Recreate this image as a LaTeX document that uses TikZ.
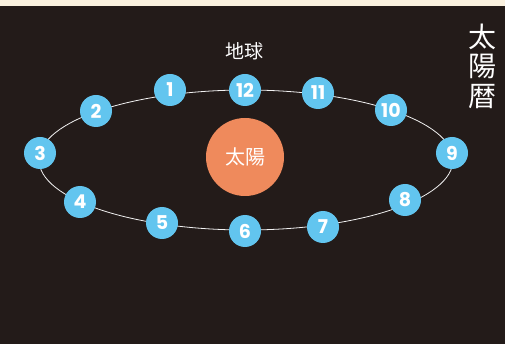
\documentclass[tikz,border=0pt]{standalone}
\usepackage{fontspec}
\newfontfamily\cjk{Noto Sans CJK JP}
\newfontfamily\numfont{Poppins}[UprightFont=* Bold]
\definecolor{bgdark}{HTML}{231B19}
\definecolor{cream}{HTML}{FAF1DF}
\definecolor{earthblue}{HTML}{62C5EF}
\definecolor{sunorange}{HTML}{EF8A5C}
\tikzset{
  month/.style={circle,fill=earthblue,minimum size=32pt,inner sep=0pt,text=white,font=\numfont\fontsize{19}{19}\selectfont},
  orbit/.style={draw=white!90!gray,line width=0.8pt}
}
\begin{document}
\begin{tikzpicture}[x=1pt,y=-1pt]
\useasboundingbox (0,0) rectangle (505,344);
\fill[bgdark] (0,0) rectangle (505,344);
\fill[cream] (0,0) rectangle (505,6);
\draw[orbit] (246,160) ellipse [x radius=207,y radius=70];
\node[circle,fill=sunorange,minimum size=78pt,inner sep=0pt,text=white,font=\cjk\fontsize{20}{20}\selectfont] (sun) at (245,157) {太陽};
\node[text=white,font=\cjk\fontsize{19}{19}\selectfont] (earth) at (244,51) {地球};
\node[text=white,font=\cjk\fontsize{28}{30}\selectfont,align=center,inner sep=0pt] (title) at (482,66) {太\\[-0.5pt]陽\\[-0.5pt]暦};
\node[month] (m1) at (170,90) {1};
\node[month] (m2) at (96,111) {2};
\node[month] (m3) at (40,153) {3};
\node[month] (m4) at (80,202) {4};
\node[month] (m5) at (162,223) {5};
\node[month] (m6) at (245,231) {6};
\node[month] (m7) at (323,227) {7};
\node[month] (m8) at (405,200) {8};
\node[month] (m9) at (452,153) {9};
\node[month] (m10) at (391,110) {10};
\node[month] (m11) at (318,93) {11};
\node[month] (m12) at (245,90) {12};
\end{tikzpicture}
\end{document}
